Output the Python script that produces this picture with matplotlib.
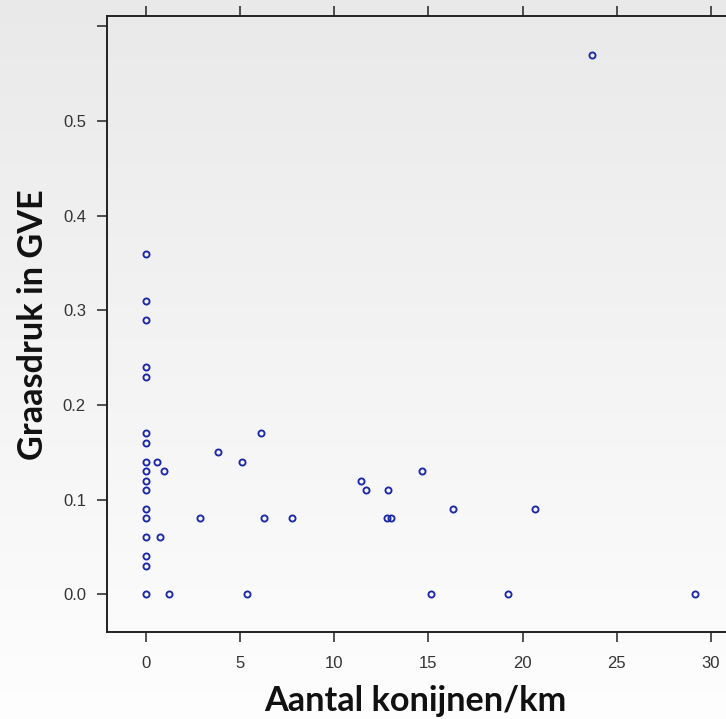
import numpy as np
import matplotlib
matplotlib.use("Agg")
import matplotlib.pyplot as plt

# rabbits per km vs grazing pressure (GVE)
konijnen = [0, 0, 0, 0, 0, 0, 0, 0, 0, 0, 0, 0, 0, 0, 0, 0, 0,
            0.58, 0.96, 0.73, 1.22, 2.89, 3.8, 5.1, 5.36, 6.1, 6.25, 7.75,
            11.42, 11.7, 12.85, 12.8, 13.0, 14.64, 15.14, 16.29, 19.2, 20.66,
            23.7, 29.16]
graasdruk = [0.36, 0.31, 0.29, 0.24, 0.23, 0.17, 0.16, 0.14, 0.13, 0.12, 0.11,
             0.09, 0.08, 0.06, 0.04, 0.03, 0.0,
             0.14, 0.13, 0.06, 0.0, 0.08, 0.15, 0.14, 0.0, 0.17, 0.08, 0.08,
             0.12, 0.11, 0.11, 0.08, 0.08, 0.13, 0.0, 0.09, 0.0, 0.09,
             0.57, 0.0]

x_ticks = [0, 5, 10, 15, 20, 25, 30]
y_ticks = [0.0, 0.1, 0.2, 0.3, 0.4, 0.5, 0.6]
y_ticklabels = ["0.0", "0.1", "0.2", "0.3", "0.4", "0.5", ""]

fig = plt.figure(figsize=(7.26, 7.19), dpi=100)

# soft grey-to-white background over the whole slide
bg = fig.add_axes([0, 0, 1, 1], zorder=0)
grad = np.linspace(0.915, 0.995, 256).reshape(-1, 1)
bg.imshow(np.dstack([grad, grad, grad]), aspect="auto", extent=[0, 1, 0, 1])
bg.set_axis_off()

ax = fig.add_axes([0.147, 0.121, 0.884, 0.8567], zorder=1)
ax.set_facecolor("none")
ax.plot(konijnen, graasdruk, linestyle="none", marker="o", markersize=4.4,
        markerfacecolor="none", markeredgecolor="#1a28aa", markeredgewidth=1.35)

ax.set_xlim(-2.09, 32.0)
ax.set_ylim(-0.040, 0.611)
ax.set_xticks(x_ticks)
ax.set_yticks(y_ticks)
ax.set_yticklabels(y_ticklabels)

for side in ["left", "bottom", "top", "right"]:
    ax.spines[side].set_linewidth(1.4)
    ax.spines[side].set_color("#222222")

ax.tick_params(axis="x", direction="out", length=7, width=1.1, color="#222222",
               top=True, labeltop=False, pad=10, labelsize=12, labelcolor="#333333")
ax.tick_params(axis="y", direction="out", length=7, width=1.1, color="#222222",
               right=False, pad=8, labelsize=12, labelcolor="#333333")
for lbl in ax.get_xticklabels() + ax.get_yticklabels():
    lbl.set_family("Liberation Sans")

fig.text(0.572, 0.011, "Aantal konijnen/km", ha="center", va="baseline",
         fontsize=24.7, fontweight="bold", family="Lato", color="#111111")
fig.text(0.0592, 0.548, "Graasdruk in GVE", ha="center", va="baseline",
         rotation=90, rotation_mode="anchor", fontsize=24.7, fontweight="bold",
         family="Lato", color="#111111")

fig.savefig("out.png", dpi=100)
